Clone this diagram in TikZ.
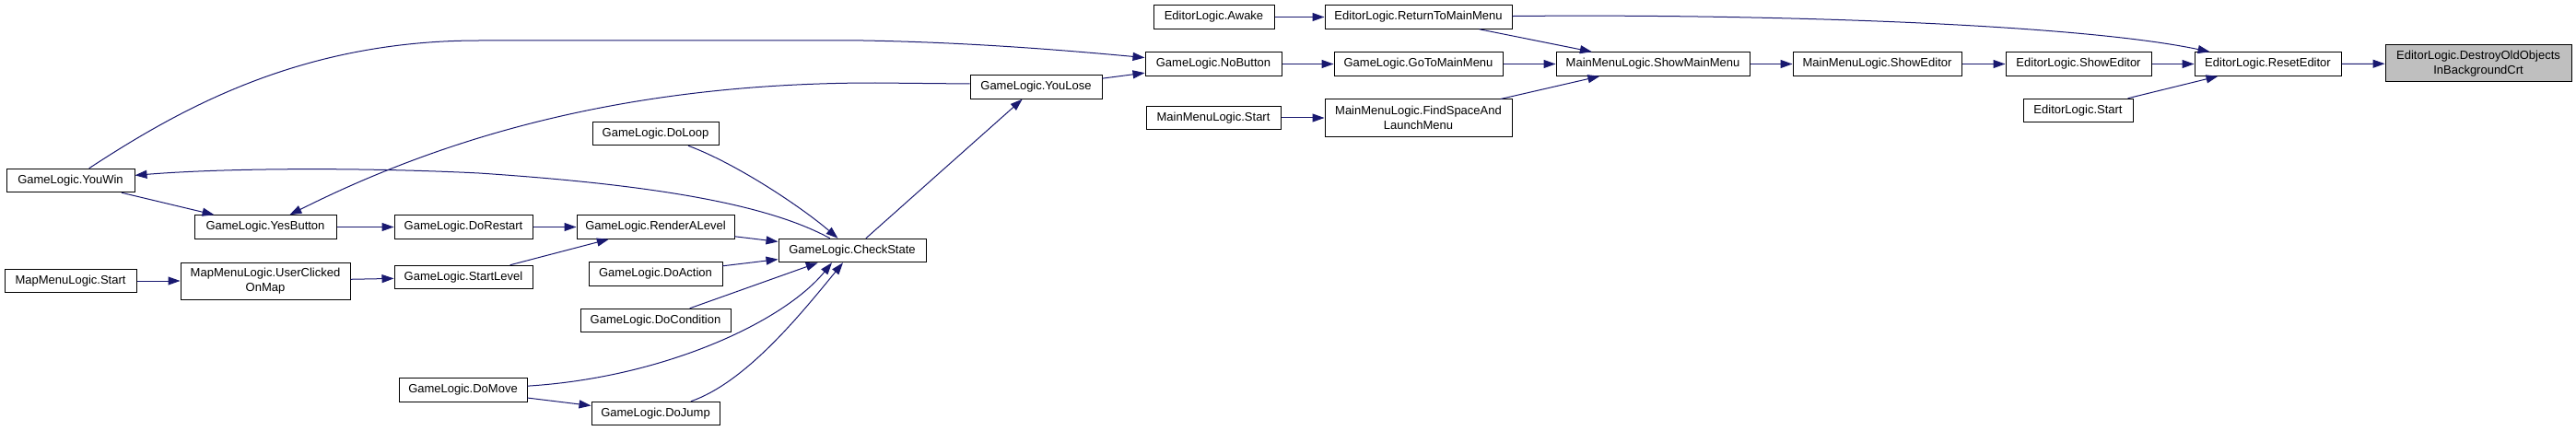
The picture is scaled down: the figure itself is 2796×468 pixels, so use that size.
\documentclass[tikz,border=0pt]{standalone}
\usepackage{fontspec}
\setmainfont{Liberation Sans}
\usetikzlibrary{arrows.meta}
\definecolor{edgec}{RGB}{25,25,112}
\definecolor{hlfill}{RGB}{191,191,191}
\begin{document}
\begin{tikzpicture}[x=1pt,y=-1pt,
  fn/.style={draw=black, line width=1pt, fill=white, inner sep=0pt,
    minimum height=25.5pt, align=center, font=\fontsize{13}{16}\selectfont},
  bw/.style={minimum width=#1pt},
  two/.style={minimum height=40pt},
  edge/.style={draw=edgec, line width=1pt, -{Triangle[length=13pt,width=9pt]}}]
\useasboundingbox (0,0) rectangle (2796,468);
\fill[white] (0,0) rectangle (2796,468);
% nodes
\node[fn,bw=139] (youwin) at (76.5,196) {GameLogic.YouWin};
\node[fn,bw=154] (yesbutton) at (288,246.5) {GameLogic.YesButton};
\node[fn,bw=150] (dorestart) at (503,246.5) {GameLogic.DoRestart};
\node[fn,bw=143] (mapstart) at (76.5,305) {MapMenuLogic.Start};
\node[fn,bw=184,two] (userclicked) at (288,305) {MapMenuLogic.UserClicked\\OnMap};
\node[fn,bw=150] (startlevel) at (503,301) {GameLogic.StartLevel};
\node[fn,bw=139] (domove) at (502.5,423.5) {GameLogic.DoMove};
\node[fn,bw=171] (render) at (711.5,246.5) {GameLogic.RenderALevel};
\node[fn,bw=137] (doloop) at (711.5,145) {GameLogic.DoLoop};
\node[fn,bw=145] (doaction) at (711.5,297.5) {GameLogic.DoAction};
\node[fn,bw=163] (docondition) at (711.5,348) {GameLogic.DoCondition};
\node[fn,bw=139] (dojump) at (711.5,449) {GameLogic.DoJump};
\node[fn,bw=160] (checkstate) at (925,272) {GameLogic.CheckState};
\node[fn,bw=143] (youlose) at (1124.5,94.5) {GameLogic.YouLose};
\node[fn,bw=148] (nobutton) at (1317,69.5) {GameLogic.NoButton};
\node[fn,bw=131] (awake) at (1317.5,18.5) {EditorLogic.Awake};
\node[fn,bw=146] (mainstart) at (1317,128) {MainMenuLogic.Start};
\node[fn,bw=203] (returnmm) at (1539.5,18.5) {EditorLogic.ReturnToMainMenu};
\node[fn,bw=183] (gotomm) at (1539.5,69.5) {GameLogic.GoToMainMenu};
\node[fn,bw=203,two] (findspace) at (1539.5,128) {MainMenuLogic.FindSpaceAnd\\LaunchMenu};
\node[fn,bw=210] (showmain) at (1794,69.5) {MainMenuLogic.ShowMainMenu};
\node[fn,bw=183] (mmshowed) at (2037.5,69.5) {MainMenuLogic.ShowEditor};
\node[fn,bw=158] (elshowed) at (2256,69.5) {EditorLogic.ShowEditor};
\node[fn,bw=159] (reset) at (2461.5,69.5) {EditorLogic.ResetEditor};
\node[fn,bw=119] (elstart) at (2255.5,120) {EditorLogic.Start};
\node[fn,bw=202,two,fill=hlfill] (destroy) at (2690,69) {EditorLogic.DestroyOldObjects\\InBackgroundCrt};
% straight edges
\draw[edge] (youwin) -- (yesbutton);
\draw[edge] (yesbutton) -- (dorestart);
\draw[edge] (dorestart) -- (render);
\draw[edge] (mapstart) -- (userclicked);
\draw[edge] (userclicked) -- (startlevel);
\draw[edge] (startlevel) -- (render);
\draw[edge] (render) -- (checkstate);
\draw[edge] (doaction) -- (checkstate);
\draw[edge] (docondition) -- (checkstate);
\draw[edge] (domove) -- (dojump);
\draw[edge] (checkstate) -- (youlose);
\draw[edge] (youlose) -- (nobutton);
\draw[edge] (nobutton) -- (gotomm);
\draw[edge] (awake) -- (returnmm);
\draw[edge] (mainstart) -- (findspace);
\draw[edge] (returnmm) -- (showmain);
\draw[edge] (gotomm) -- (showmain);
\draw[edge] (findspace) -- (showmain);
\draw[edge] (showmain) -- (mmshowed);
\draw[edge] (mmshowed) -- (elshowed);
\draw[edge] (elshowed) -- (reset);
\draw[edge] (elstart) -- (reset);
\draw[edge] (reset) -- (destroy);
% curved edges
\draw[edge] (youwin) .. controls (200,115) and (330,44) .. (520,44) -- (937,44)
  .. controls (1050,46) and (1150,54) .. (nobutton);
\draw[edge] ([yshift=3.5pt]youlose.west) -- (950,90) .. controls (700,90) and (500,140) .. (yesbutton);
\draw[edge] (checkstate) .. controls (830,220) and (700,200) .. (520,188)
  .. controls (400,182) and (250,182) .. (youwin);
\draw[edge] (doloop) .. controls (800,178) and (870,225) .. (checkstate);
\draw[edge] (domove) .. controls (720,410) and (850,350) .. ([xshift=-22pt]checkstate.south);
\draw[edge] (dojump) .. controls (810,415) and (870,340) .. ([xshift=-10pt]checkstate.south);
\draw[edge] (returnmm) .. controls (1900,15) and (2250,25) .. (reset);
\end{tikzpicture}
\end{document}
